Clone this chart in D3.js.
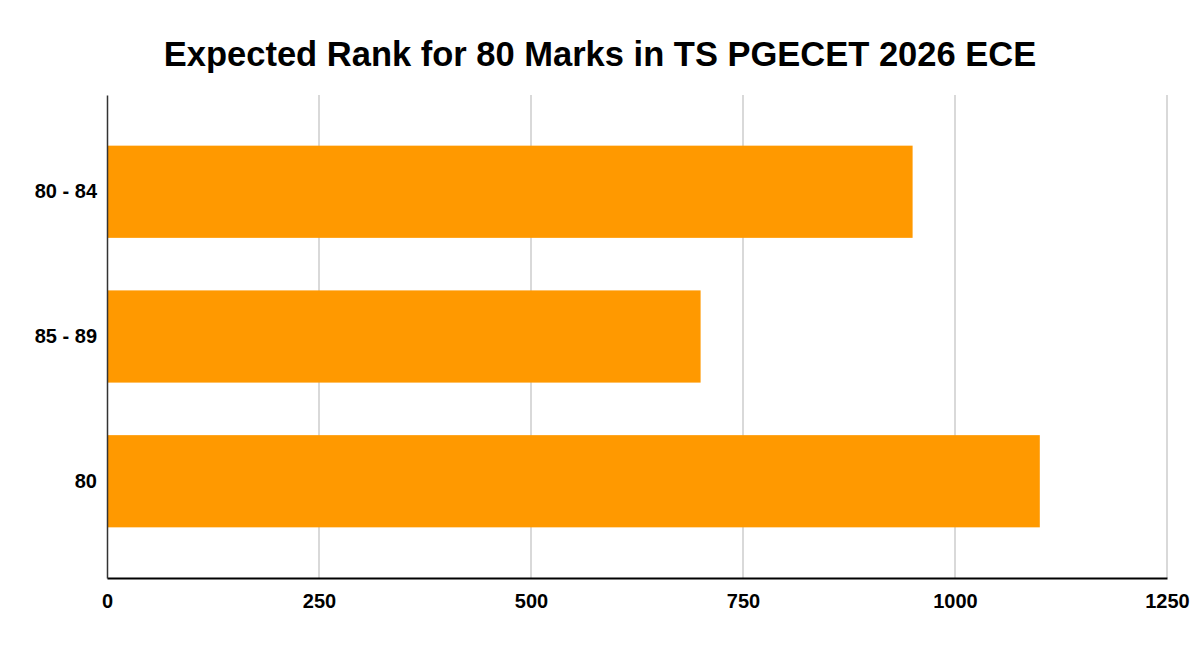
<!DOCTYPE html>
<html>
<head>
<meta charset="utf-8">
<script src="https://cdn.jsdelivr.net/npm/d3@7"></script>
<style>
  body { margin: 0; background: #fff; }
  text { font-family: "Liberation Sans", Arial, sans-serif; }
</style>
</head>
<body>
<div id="chart"></div>
<script>
// Chart data
const categories = ['80 - 84', '85 - 89', '80'];
const rankValues = [950, 700, 1100];
const xTickValues = [0, 250, 500, 750, 1000, 1250];
const chartTitle = 'Expected Rank for 80 Marks in TS PGECET 2026 ECE';

const width = 1200;
const height = 646;
const margin = { top: 95, right: 33, bottom: 68, left: 107 };

const svg = d3.select('#chart').append('svg')
  .attr('width', width)
  .attr('height', height);

const x = d3.scaleLinear()
  .domain([0, 1250])
  .range([margin.left, width - margin.right]);

const y = d3.scaleBand()
  .domain(categories)
  .range([margin.top, height - margin.bottom])
  .paddingInner(0.363)
  .paddingOuter(0.35);

// Title
svg.append('text')
  .attr('x', 600)
  .attr('y', 66)
  .attr('text-anchor', 'middle')
  .style('font-size', '34.5px')
  .style('font-weight', 'bold')
  .attr('fill', '#000')
  .text(chartTitle);

// Vertical gridlines
svg.append('g')
  .selectAll('line')
  .data(xTickValues.slice(1))
  .join('line')
  .attr('x1', d => x(d))
  .attr('x2', d => x(d))
  .attr('y1', margin.top)
  .attr('y2', height - margin.bottom)
  .attr('stroke', '#cccccc')
  .attr('stroke-width', 1.5);

// Bars
svg.append('g')
  .selectAll('rect')
  .data(categories)
  .join('rect')
  .attr('x', x(0))
  .attr('y', d => y(d))
  .attr('width', (d, i) => x(rankValues[i]) - x(0))
  .attr('height', y.bandwidth())
  .attr('fill', '#ff9900');

// x-axis
const xAxis = svg.append('g')
  .attr('transform', `translate(0,${height - margin.bottom})`)
  .call(d3.axisBottom(x).tickValues(xTickValues).tickFormat(d3.format('d')).tickSize(0).tickPadding(16));
xAxis.select('.domain').attr('stroke', '#000').attr('stroke-width', 2);
xAxis.selectAll('text')
  .style('font-size', '20px')
  .style('font-weight', 'bold')
  .style('font-family', '"Liberation Sans", Arial, sans-serif')
  .attr('fill', '#000');

// y-axis
const yAxis = svg.append('g')
  .attr('transform', `translate(${margin.left},0)`)
  .call(d3.axisLeft(y).tickSize(0).tickPadding(10));
yAxis.select('.domain').attr('stroke', '#333').attr('stroke-width', 1.5);
yAxis.selectAll('text')
  .style('font-size', '20px')
  .style('font-weight', 'bold')
  .style('font-family', '"Liberation Sans", Arial, sans-serif')
  .attr('fill', '#000');
</script>
</body>
</html>
